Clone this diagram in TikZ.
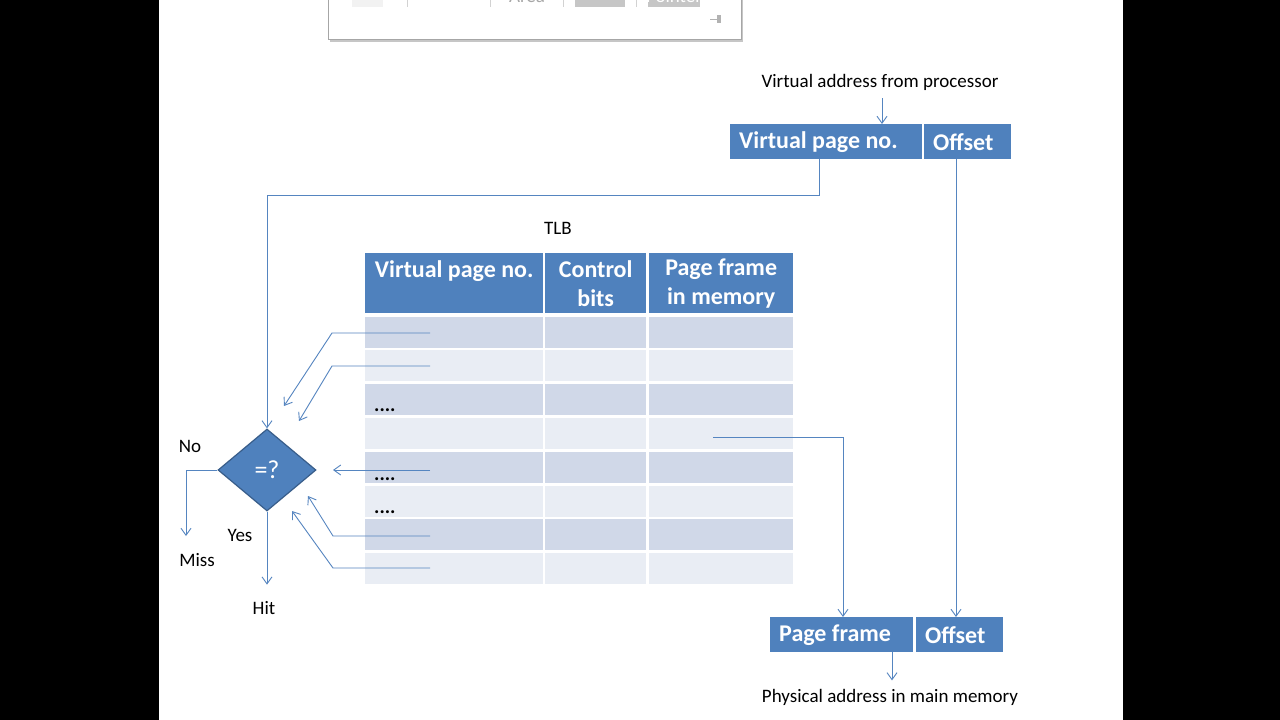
\documentclass[tikz,border=0pt]{standalone}
\usepackage{fontspec}
\setmainfont{Carlito}
\usetikzlibrary{arrows.meta,shapes.geometric}
\definecolor{hdr}{HTML}{4F81BD}
\definecolor{rowA}{HTML}{D0D8E8}
\definecolor{rowB}{HTML}{E9EDF4}
\definecolor{ln}{HTML}{5585C0}
\definecolor{dborder}{HTML}{385D8A}
\definecolor{tbgray}{HTML}{A6A6A6}
\begin{document}
\begin{tikzpicture}[x=1pt,y=-1pt,
  hbox/.style={fill=hdr,text=white,font=\fontsize{24}{29}\selectfont\bfseries,inner ysep=0pt,inner xsep=9pt,align=flush left,minimum height=35pt,anchor=north west},
  thead/.style={fill=hdr,text=white,font=\fontsize{24}{29}\selectfont\bfseries,inner sep=0pt,minimum height=60pt,anchor=north west,align=center},
  cell/.style={inner sep=0pt,anchor=north west,minimum height=31pt},
  lbl/.style={font=\fontsize{19}{22}\selectfont,inner sep=0pt},
  dots/.style={font=\fontsize{20}{22}\selectfont\bfseries,inner sep=0pt,anchor=base west},
  conn/.style={draw=ln,line width=0.9pt,-{Straight Barb[length=7pt,width=10pt,line width=0.9pt]}}]
\clip (0,0) rectangle (1280,720);
\fill[white] (0,0) rectangle (1280,720);
\fill[black] (0,0) rectangle (159,720);
\fill[black] (1123,0) rectangle (1280,720);
% toolbar remnant
\fill[gray!45] (330,-5) rectangle (743,42);
\draw[tbgray,line width=1pt,fill=white] (328,-5) rectangle (741,39);
\foreach \xx in {407,490,563,636} \draw[gray!35,line width=0.8pt] (\xx,-5) -- (\xx,7);
\fill[gray!10] (352,-5) rectangle (383,7);
\fill[gray!45] (575,-5) rectangle (625,7);
\fill[gray!45] (648,-5) rectangle (700,7);
\node[lbl,text=gray!70] (tbarea) at (527,-4) {Area};
\node[lbl,text=white] (tbptr) at (674,-4) {Pointer};
\draw[gray!60,line width=1pt] (710,19) -- (718,19);
\fill[gray!60] (717,15) rectangle (721,23);
% top address
\node[lbl] (va) at (880,82) {Virtual address from processor};
\node[hbox,text width=174pt] (vpn) at (730,124) {Virtual page no.};
\node[hbox,text width=69pt] (off) at (924,124) {Offset};
\draw[conn] ([xshift=152pt]vpn.north west |- 0,98) -- ([xshift=152pt]vpn.north west);
% TLB
\node[lbl] (tlb) at (558,228) {TLB};
\node[thead,minimum width=178pt] (h1) at (365,253) {Virtual page no.\\\mbox{}};
\node[thead,minimum width=101pt] (h2) at (545,253) {Control\\bits};
\node[thead,minimum width=144pt] (h3) at (649,253) {Page frame\\in memory};
\foreach \i/\yy/\cc in {1/317/rowA,2/350/rowB,3/384/rowA,4/418/rowB,5/452/rowA,6/486/rowB,7/519/rowA,8/553/rowB}{
  \node[cell,fill=\cc,minimum width=178pt] (r\i a) at (365,\yy) {};
  \node[cell,fill=\cc,minimum width=101pt] (r\i b) at (545,\yy) {};
  \node[cell,fill=\cc,minimum width=144pt] (r\i c) at (649,\yy) {};
}
\node[dots] (d3) at (374,411) {....};
\node[dots] (d5) at (374,480) {....};
\node[dots] (d6) at (374,513) {....};
% comparator
\node[diamond,fill=hdr,draw=dborder,line width=1.2pt,minimum width=98pt,minimum height=82pt,inner sep=0pt,text=white,font=\fontsize{26}{28}\selectfont] (dia) at (267,470) {=?};
\draw[conn] ([xshift=89pt]vpn.south west) -- ++(0,36) -| (dia.north);
% comparison lines
\coordinate (s1) at (430,333); \coordinate (e1) at (284,406);
\coordinate (s2) at (430,366); \coordinate (e2) at (299,421);
\coordinate (s5) at (430,470); \coordinate (e5) at (333,470);
\coordinate (s7) at (430,536); \coordinate (e7) at (308,496);
\coordinate (s8) at (430,568); \coordinate (e8) at (292,511);
\draw[conn] (s1) -- (332,333) -- (e1);
\draw[conn] (s2) -- (332,366) -- (e2);
\draw[conn] (s5) -- (e5);
\draw[conn] (s7) -- (333,536) -- (e7);
\draw[conn] (s8) -- (333,568) -- (e8);
% outcomes
\node[lbl] (no) at (190,446) {No};
\node[lbl] (miss) at (197,560) {Miss};
\node[lbl] (yes) at (240,535) {Yes};
\node[lbl] (hit) at (264,608) {Hit};
\coordinate (missend) at (186,536);
\draw[conn] (dia.west) -| (missend);
\draw[conn] (dia.south) -- ++(0,73);
% physical address
\node[hbox,text width=125pt] (pf) at (770,617) {Page frame};
\node[hbox,text width=69pt] (off2) at (916,617) {Offset};
\coordinate (pf0) at (713,437);
\draw[conn] (pf0) -| ([xshift=73pt]pf.north west);
\draw[conn] ([xshift=32pt]off.south west) -- ([xshift=40pt]off2.north west);
\node[lbl] (phys) at (890,697) {Physical address in main memory};
\draw[conn] ([xshift=122pt]pf.south west) -- ++(0,28);
\end{tikzpicture}
\end{document}
